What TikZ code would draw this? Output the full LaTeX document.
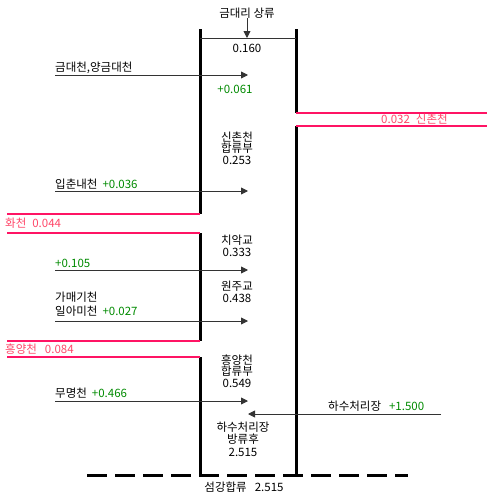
\documentclass[tikz,border=0pt]{standalone}
\usepackage{fontspec}
\setmainfont{Noto Sans CJK KR}
\usetikzlibrary{arrows.meta}
\definecolor{grn}{HTML}{008A00}
\definecolor{pinkline}{HTML}{FF1464}
\definecolor{pinktxt}{HTML}{FF4668}
\definecolor{flowgray}{HTML}{333333}
\tikzset{
  bank/.style={line width=3pt, black},
  trib/.style={line width=1.8pt, pinkline},
  thin/.style={line width=0.9pt, flowgray},
  flow/.style={line width=0.9pt, flowgray, -{Triangle[length=7pt,width=7pt]}},
  lbl/.style={font=\fontsize{11.5}{12}\selectfont, inner sep=0pt, anchor=west},
  mid/.style={font=\fontsize{11.5}{11.5}\selectfont, inner sep=0pt, align=center},
  gr/.style={text=grn},
  pk/.style={text=pinktxt},
  dashline/.style={line width=3pt, black, dash pattern=on 20pt off 8pt}
}
\begin{document}
\begin{tikzpicture}[x=1pt, y=-1pt]
\useasboundingbox (0,0) rectangle (487,493);
% banks
\coordinate (L1a) at (200,29); \coordinate (L1b) at (200,214);
\coordinate (L2a) at (200,233); \coordinate (L2b) at (200,341);
\coordinate (L3a) at (200,357); \coordinate (L3b) at (200,476);
\coordinate (R1a) at (296,29); \coordinate (R1b) at (296,113);
\coordinate (R2a) at (296,126); \coordinate (R2b) at (296,476);
\draw[bank] (L1a) -- (L1b);
\draw[bank] (L2a) -- (L2b);
\draw[bank] (L3a) -- (L3b);
\draw[bank] (R1a) -- (R1b);
\draw[bank] (R2a) -- (R2b);
% top line
\coordinate (T1) at (200,38); \coordinate (T2) at (296,38);
\draw[thin] (T1) -- (T2);
\node[mid] (top) at (247,13) {금대리 상류};
\coordinate (topin) at (247,38);
\draw[flow] (top.south) -- (topin);
\node[mid] (v160) at (247,48) {0.160};
% tributaries (pink)
\coordinate (S1) at (296,113); \coordinate (S2) at (487,113);
\coordinate (S3) at (296,126); \coordinate (S4) at (487,126);
\draw[trib] (S1) -- (S2);
\draw[trib] (S3) -- (S4);
\node[lbl, pk] (sinchon) at (381,119.5) {0.032\hspace{6pt}신촌천};
\coordinate (H1) at (7,214); \coordinate (H2) at (200,214);
\coordinate (H3) at (7,233); \coordinate (H4) at (200,233);
\draw[trib] (H1) -- (H2);
\draw[trib] (H3) -- (H4);
\node[lbl, pk] (hwa) at (5,223.5) {화천\hspace{6pt}0.044};
\coordinate (Y1) at (7,341); \coordinate (Y2) at (200,341);
\coordinate (Y3) at (7,357); \coordinate (Y4) at (200,357);
\draw[trib] (Y1) -- (Y2);
\draw[trib] (Y3) -- (Y4);
\node[lbl, pk] (heung) at (5,349.5) {흥양천\hspace{8pt}0.084};
% inflow arrows
\coordinate (a1s) at (55,75); \coordinate (a1e) at (248,75);
\draw[flow] (a1s) -- (a1e);
\node[lbl] (n1) at (55,68) {금대천,양금대천};
\node[mid, gr] (g1) at (235,89) {+0.061};
\coordinate (a2s) at (55,191); \coordinate (a2e) at (248,191);
\draw[flow] (a2s) -- (a2e);
\node[lbl] (n2) at (55,184) {입춘내천\hspace{5pt}\textcolor{grn}{+0.036}};
\coordinate (a3s) at (55,270); \coordinate (a3e) at (248,270);
\draw[flow] (a3s) -- (a3e);
\node[lbl, gr] (n3) at (55,263) {+0.105};
\coordinate (a4s) at (55,321); \coordinate (a4e) at (248,321);
\draw[flow] (a4s) -- (a4e);
\node[lbl] (n4a) at (55,297) {가매기천};
\node[lbl] (n4b) at (55,311) {일아미천\hspace{5pt}\textcolor{grn}{+0.027}};
\coordinate (a5s) at (55,401); \coordinate (a5e) at (248,401);
\draw[flow] (a5s) -- (a5e);
\node[lbl] (n5) at (55,393) {무명천\hspace{5pt}\textcolor{grn}{+0.466}};
\coordinate (a6s) at (441,414); \coordinate (a6e) at (248,414);
\draw[flow] (a6s) -- (a6e);
\node[lbl] (n6) at (328,406) {하수처리장\hspace{8pt}\textcolor{grn}{+1.500}};
% stations
\node[mid] (st1) at (237,148) {신촌천\\합류부\\0.253};
\node[mid] (st2) at (237,246) {치악교\\0.333};
\node[mid] (st3) at (237,292) {원주교\\0.438};
\node[mid] (st4) at (237,371) {흥양천\\합류부\\0.549};
\node[mid, font=\fontsize{11.5}{12.5}\selectfont] (st5) at (243,439) {하수처리장\\방류후\\2.515};
% bottom
\coordinate (D1) at (87,475); \coordinate (D2) at (408,475);
\draw[dashline] (D1) -- (D2);
\node[mid] (seom) at (244,487) {섬강합류\hspace{8pt}2.515};
\end{tikzpicture}
\end{document}
